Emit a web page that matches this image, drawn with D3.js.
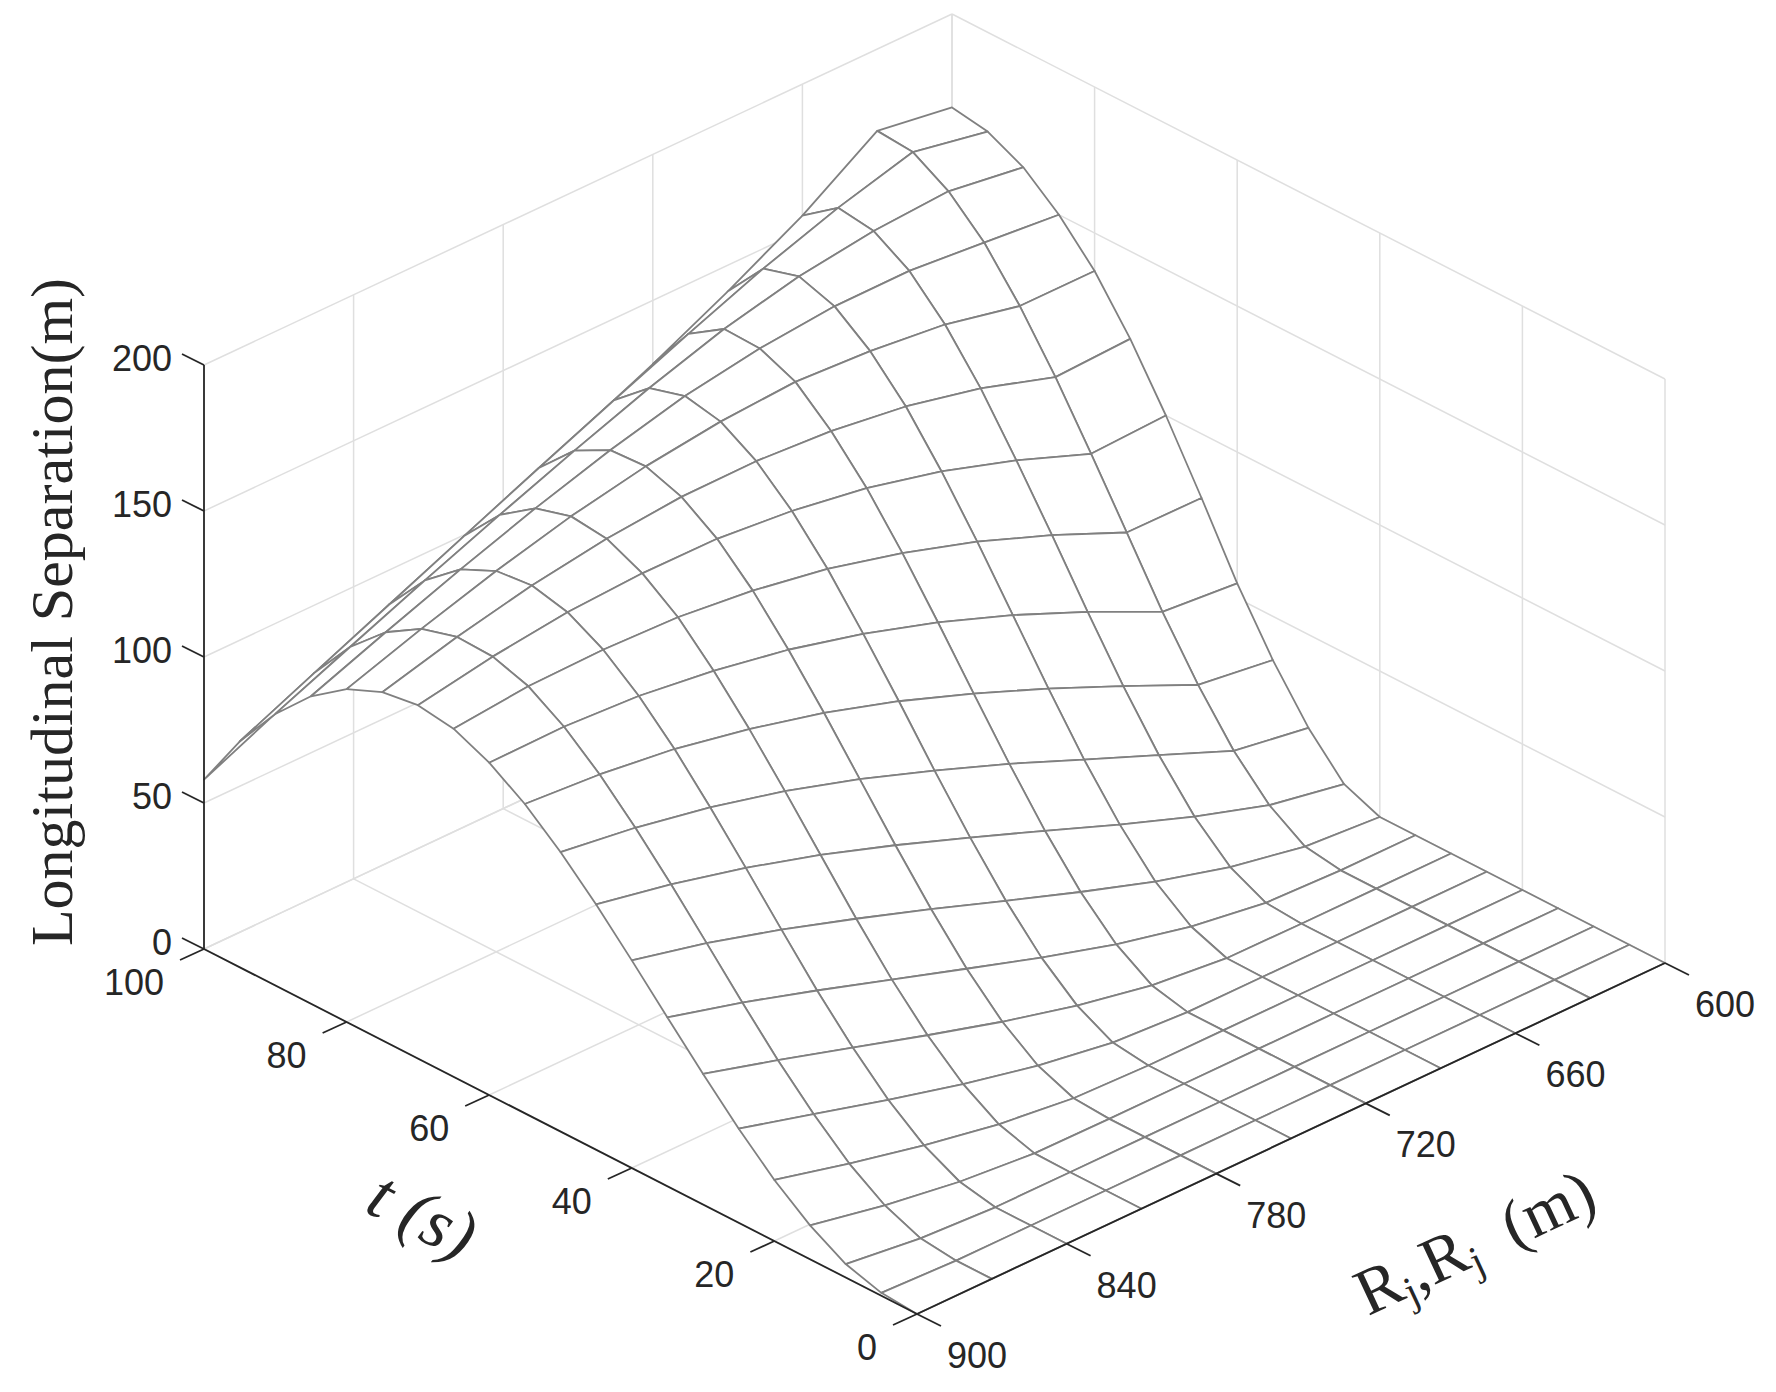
<!DOCTYPE html>
<html>
<head>
<meta charset="utf-8">
<script src="https://cdn.jsdelivr.net/npm/d3@7"></script>
<style>
  body { margin: 0; background: #fff; }
  text { font-family: "Liberation Sans", Arial, sans-serif; fill: #262626; }
</style>
</head>
<body>
<svg id="chart" width="1776" height="1392"></svg>
<script>
// grid of the surface
const tValues = [0, 5, 10, 15, 20, 25, 30, 35, 40, 45, 50, 55, 60, 65, 70, 75, 80, 85, 90, 95, 100];
const rValues = [600, 630, 660, 690, 720, 750, 780, 810, 840, 870, 900];
// one row per R value, one column per t value
const zValues = [
  [0, 0, 0, 0, 0, 0, 0, 0, 0, 5, 18, 35, 55, 78, 100, 120, 137, 150, 160, 166, 168],
  [0, 0, 0, 0, 0, 0, 0, 0, 1.9, 9.8, 22.2, 38.5, 57.3, 78.2, 98.9, 118.9, 137, 152.5, 163.8, 171, 172],
  [0, 0, 0, 0, 0, 0, 0, 0.9, 6.9, 17.9, 32.7, 50.1, 69.3, 89.3, 108.7, 127.1, 142.7, 154.8, 162.2, 163.9, 155],
  [0, 0, 0, 0, 0, 0, 0.2, 4.8, 13.9, 27.2, 43.2, 61.3, 80.2, 99.1, 116.9, 132.9, 145.6, 154.7, 158.7, 155.1, 141],
  [0, 0, 0, 0, 0, 0, 2.9, 10.7, 22.4, 37.1, 53.8, 71.6, 89.7, 107.2, 123.2, 136.5, 147.1, 152.3, 152.7, 144.8, 128.2],
  [0, 0, 0, 0, 0, 1.6, 8, 18.2, 31.4, 46.8, 63.5, 81, 97.8, 113.8, 127.4, 138.2, 145.5, 148, 144.5, 134, 116.5],
  [0, 0, 0, 0, 0.8, 5.7, 14.5, 26.4, 40.6, 56.2, 72.6, 89, 104.4, 118.4, 129.9, 138, 142.2, 141.5, 135.1, 122.9, 104.8],
  [0, 0, 0, 0.2, 3.9, 11.4, 21.9, 34.7, 49.3, 64.9, 80.5, 95.5, 109.2, 121.3, 130.1, 135.7, 137.1, 133.6, 125.1, 111.6, 93.1],
  [0, 0, 0, 2.5, 8.7, 18, 29.7, 43, 57.6, 72.5, 87, 100.7, 112.6, 122.2, 128.8, 131.7, 130.4, 124.7, 114.7, 100.2, 81.4],
  [0, 0, 1.4, 6.4, 14.5, 25.2, 37.4, 50.9, 65, 78.9, 92, 104, 114.1, 121.7, 125.6, 126.1, 122.6, 115.2, 103.9, 88.8, 69.7],
  [0, 1, 4.6, 11.6, 20.9, 32.2, 44.7, 57.8, 71.1, 84, 95.7, 105.9, 113.8, 119.2, 121, 119.2, 114, 105.3, 93, 77.3, 58]
];
const zTicks = [0, 50, 100, 150, 200];
const tTicks = [0, 20, 40, 60, 80, 100];
const rTicks = [600, 660, 720, 780, 840, 900];

const svg = d3.select('#chart');

// oblique projection: corner t=0, R=900, z=0 sits at (917,1314)
const tx = d3.scaleLinear().domain([0, 100]).range([0, -713]);
const ty = d3.scaleLinear().domain([0, 100]).range([0, -365]);
const rx = d3.scaleLinear().domain([900, 600]).range([0, 748]);
const ry = d3.scaleLinear().domain([900, 600]).range([0, -351]);
const zy = d3.scaleLinear().domain([0, 200]).range([0, -584]);
const proj = (t, r, z) => [917 + tx(t) + rx(r), 1314 + ty(t) + ry(r) + zy(z)];

const gridColor = '#dfdfdf';
const grid = svg.append('g').attr('stroke', gridColor).attr('stroke-width', 1.5).attr('fill', 'none');
const seg = (a, b) => grid.append('line').attr('x1', a[0]).attr('y1', a[1]).attr('x2', b[0]).attr('y2', b[1]);

// floor grid
tTicks.forEach(t => seg(proj(t, 900, 0), proj(t, 600, 0)));
rTicks.forEach(r => seg(proj(0, r, 0), proj(100, r, 0)));
// back wall t = 100
rTicks.forEach(r => seg(proj(100, r, 0), proj(100, r, 200)));
zTicks.forEach(z => seg(proj(100, 900, z), proj(100, 600, z)));
// back wall R = 600
tTicks.forEach(t => seg(proj(t, 600, 0), proj(t, 600, 200)));
zTicks.forEach(z => seg(proj(0, 600, z), proj(100, 600, z)));

// mesh quads, far ones first
const quads = [];
for (let i = 0; i < rValues.length - 1; i++) {
  for (let j = 0; j < tValues.length - 1; j++) {
    const pts = [
      proj(tValues[j], rValues[i], zValues[i][j]),
      proj(tValues[j + 1], rValues[i], zValues[i][j + 1]),
      proj(tValues[j + 1], rValues[i + 1], zValues[i + 1][j + 1]),
      proj(tValues[j], rValues[i + 1], zValues[i + 1][j])
    ];
    const depth = (tValues[j] + tValues[j + 1]) / 200 + (1800 - rValues[i] - rValues[i + 1]) / 600;
    quads.push({pts, depth});
  }
}
quads.sort((a, b) => b.depth - a.depth);

svg.append('g')
  .selectAll('path')
  .data(quads)
  .join('path')
  .attr('d', d => 'M' + d.pts.map(p => p.join(',')).join('L') + 'Z')
  .attr('fill', '#fff')
  .attr('stroke', '#808080')
  .attr('stroke-width', 1.8)
  .attr('stroke-linejoin', 'round');

// axes
const axis = svg.append('g').attr('stroke', '#262626').attr('stroke-width', 1.8);
const aseg = (a, b) => axis.append('line').attr('x1', a[0]).attr('y1', a[1]).attr('x2', b[0]).attr('y2', b[1]);
aseg(proj(100, 900, 0), proj(100, 900, 200));
aseg(proj(0, 900, 0), proj(100, 900, 0));
aseg(proj(0, 900, 0), proj(0, 600, 0));

// z ticks
zTicks.forEach(z => {
  const p = proj(100, 900, z);
  aseg(p, [p[0] - 22, p[1] - 11]);
  svg.append('text').attr('x', p[0] - 32).attr('y', p[1] + 6)
    .attr('text-anchor', 'end').attr('font-size', 36).text(z);
});
// t ticks
tTicks.forEach(t => {
  const p = proj(t, 900, 0);
  aseg(p, [p[0] - 24, p[1] + 11]);
  svg.append('text').attr('x', p[0] - 40).attr('y', p[1] + 46)
    .attr('text-anchor', 'end').attr('font-size', 36).text(t);
});
// R ticks
rTicks.forEach(r => {
  const p = proj(0, r, 0);
  aseg(p, [p[0] + 24, p[1] + 12]);
  svg.append('text').attr('x', p[0] + 30).attr('y', p[1] + 54)
    .attr('text-anchor', 'start').attr('font-size', 36).text(r);
});

// axis titles
svg.append('text')
  .attr('transform', 'translate(72,612) rotate(-90)')
  .attr('text-anchor', 'middle')
  .style('font-family', '"Liberation Serif", "Times New Roman", serif')
  .attr('font-size', 60)
  .text('Longitudinal Separation(m)');

svg.append('text')
  .attr('transform', 'translate(412,1236) rotate(27)')
  .attr('text-anchor', 'middle')
  .style('font-family', '"Liberation Serif", "Times New Roman", serif')
  .style('font-style', 'italic')
  .attr('font-size', 70)
  .text('t (s)');

const rl = svg.append('text')
  .attr('transform', 'translate(1484,1262) rotate(-25)')
  .attr('text-anchor', 'middle')
  .style('font-family', '"Liberation Serif", "Times New Roman", serif')
  .attr('font-size', 66);
rl.append('tspan').text('R');
rl.append('tspan').attr('font-size', 42).attr('dy', 10).text('j');
rl.append('tspan').attr('dy', -10).text(',R');
rl.append('tspan').attr('font-size', 42).attr('dy', 10).text('j');
rl.append('tspan').attr('dy', -10).text('\u00a0 (m)');
</script>
</body>
</html>
